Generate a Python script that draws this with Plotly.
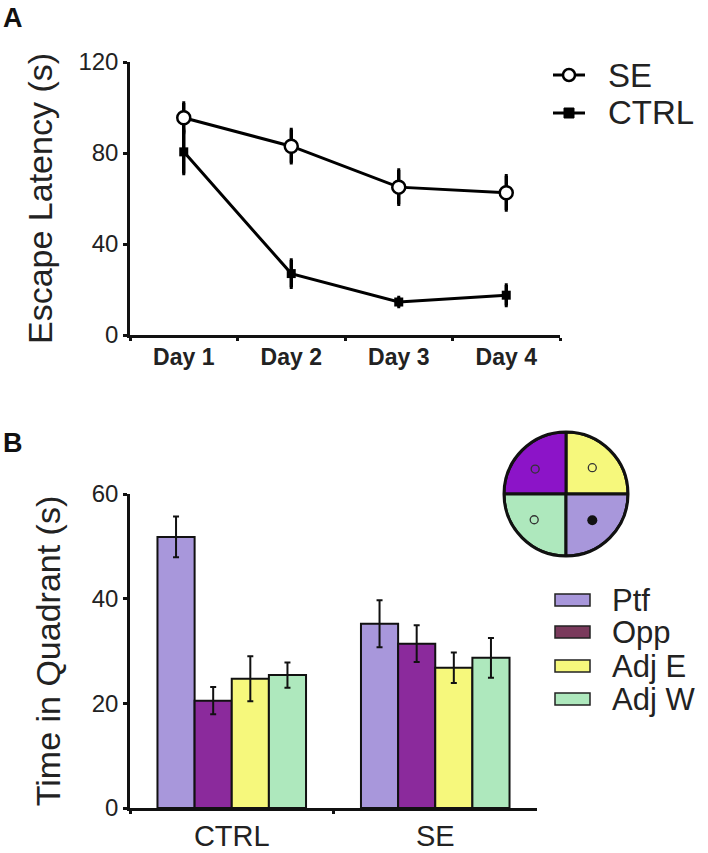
import plotly.graph_objects as go

# ---------- data ----------
days = ["Day 1", "Day 2", "Day 3", "Day 4"]
se_latency = [95.5, 83, 65, 62.5]
se_latency_err = [6.5, 7.3, 7.5, 7.5]
ctrl_latency = [80.5, 27, 14.5, 17.5]
ctrl_latency_err = [9.5, 6, 2, 4.5]

groups = ["CTRL", "SE"]
quadrants = ["Ptf", "Opp", "Adj E", "Adj W"]
ptf = [51.8, 35.2]
ptf_err = [3.9, 4.5]
opp = [20.5, 31.4]
opp_err = [2.6, 3.5]
adj_e = [24.7, 26.8]
adj_e_err = [4.3, 2.9]
adj_w = [25.4, 28.7]
adj_w_err = [2.4, 3.8]

bar_colors = ["#a897db", "#8b2a9c", "#f6f87c", "#aee8bd"]
legend_colors = ["#a897db", "#7a3a5c", "#f6f87c", "#aee8bd"]
pool_colors = ["#f6f87c", "#8c14c8", "#aee8bd", "#a897db"]  # TR, TL, BL, BR
pool_theta = [45, 135, 225, 315]

W, H = 708, 853
FONT = "Liberation Sans, Arial, sans-serif"
TXT = "#222222"

def px(x):
    return x / W

def py(y):
    return 1 - y / H

fig = go.Figure()

# ---------- Panel A ----------
fig.add_trace(go.Scatter(
    x=days, y=se_latency, name="SE", mode="lines+markers",
    line=dict(color="black", width=3),
    marker=dict(symbol="circle", size=13, color="white", line=dict(color="black", width=2.5)),
    error_y=dict(type="data", array=se_latency_err, color="black", thickness=3.5, width=1.5),
    xaxis="x", yaxis="y", showlegend=False))
fig.add_trace(go.Scatter(
    x=days, y=ctrl_latency, name="CTRL", mode="lines+markers",
    line=dict(color="black", width=3),
    marker=dict(symbol="square", size=9, color="black"),
    error_y=dict(type="data", array=ctrl_latency_err, color="black", thickness=3.5, width=1.5),
    xaxis="x", yaxis="y", showlegend=False))

# ---------- Panel B ----------
for name, vals, errs, col in zip(quadrants, [ptf, opp, adj_e, adj_w],
                                 [ptf_err, opp_err, adj_e_err, adj_w_err], bar_colors):
    fig.add_trace(go.Bar(
        x=groups, y=vals, name=name,
        marker=dict(color=col, line=dict(color="#111111", width=2)),
        error_y=dict(type="data", array=errs, color="#111111", thickness=2, width=3),
        xaxis="x2", yaxis="y2", showlegend=False))

# ---------- pool diagram ----------
fig.add_trace(go.Barpolar(
    r=[1, 1, 1, 1], theta=pool_theta, width=[90, 90, 90, 90],
    marker=dict(color=pool_colors, line=dict(color="#111111", width=3)),
    showlegend=False, hoverinfo="skip", subplot="polar"))
fig.add_trace(go.Scatterpolar(
    r=[0.6, 0.64, 0.66], theta=[45, 141, 219], mode="markers",
    marker=dict(symbol="circle-open", size=8, color="#333333", line=dict(width=1.3)),
    showlegend=False, hoverinfo="skip", subplot="polar"))
fig.add_trace(go.Scatterpolar(
    r=[0.6], theta=[315], mode="markers",
    marker=dict(symbol="circle", size=10, color="#111111"),
    showlegend=False, hoverinfo="skip", subplot="polar"))

axis_common = dict(showgrid=False, zeroline=False, showline=True, linecolor="#111111",
                   linewidth=2.5, ticks="outside", tickcolor="#111111", tickwidth=2.5,
                   ticklen=4, color=TXT, automargin=False)

fig.update_layout(
    width=W, height=H, margin=dict(l=0, r=0, t=0, b=0, pad=0, autoexpand=False),
    paper_bgcolor="white", plot_bgcolor="white",
    font=dict(family=FONT, color=TXT),
    barmode="group", bargap=0.27, bargroupgap=0,
    xaxis=dict(axis_common, domain=[px(130), px(560)], anchor="y", range=[-0.5, 3.5],
               tickson="boundaries", ticklen=3,
               tickfont=dict(size=23, family=FONT, weight="bold")),
    yaxis=dict(axis_common, domain=[py(335), py(62)], anchor="x", range=[0, 120],
               tickvals=[0, 40, 80, 120], tickfont=dict(size=24),
               title=dict(text="Escape Latency (s)", font=dict(size=34), standoff=16)),
    xaxis2=dict(axis_common, domain=[px(130), px(537)], anchor="y2", range=[-0.5, 1.5],
                tickson="boundaries", ticklen=3, tickfont=dict(size=29)),
    yaxis2=dict(axis_common, domain=[py(808), py(494)], anchor="x2", range=[0, 60],
                tickvals=[0, 20, 40, 60], tickfont=dict(size=24),
                title=dict(text="Time in Quadrant (s)", font=dict(size=34), standoff=21)),
    polar=dict(domain=dict(x=[px(504), px(628)], y=[py(556), py(432)]),
               bgcolor="rgba(0,0,0,0)", hole=0,
               radialaxis=dict(visible=False, range=[0, 1]),
               angularaxis=dict(visible=True, showline=True, linecolor="#111111", linewidth=3,
                                showticklabels=False, ticks="", showgrid=False,
                                rotation=0, direction="counterclockwise")),
)

shapes = []
annotations = []

# panel letters
annotations.append(dict(text="<b>A</b>", x=px(1), y=py(1), xref="paper", yref="paper",
                        xanchor="left", yanchor="top", showarrow=False,
                        font=dict(size=27, color="#111111")))
annotations.append(dict(text="<b>B</b>", x=px(1), y=py(426), xref="paper", yref="paper",
                        xanchor="left", yanchor="top", showarrow=False,
                        font=dict(size=27, color="#111111")))

# legend A (drawn)
for label, yc, kind in [("SE", 75, "circle"), ("CTRL", 113, "square")]:
    shapes.append(dict(type="line", xref="paper", yref="paper",
                       x0=px(553), x1=px(585), y0=py(yc), y1=py(yc),
                       line=dict(color="black", width=3)))
    if kind == "circle":
        shapes.append(dict(type="circle", xref="paper", yref="paper",
                           x0=px(563), x1=px(575), y0=py(yc + 6), y1=py(yc - 6),
                           fillcolor="white", line=dict(color="black", width=2.5)))
    else:
        shapes.append(dict(type="rect", xref="paper", yref="paper",
                           x0=px(564), x1=px(574), y0=py(yc + 5), y1=py(yc - 5),
                           fillcolor="black", line=dict(color="black", width=1)))
    annotations.append(dict(text=label, x=px(606), y=py(yc), xref="paper", yref="paper",
                            xanchor="left", yanchor="middle", showarrow=False,
                            font=dict(size=33, color=TXT)))

# legend B (drawn)
for label, col, yc in zip(quadrants, legend_colors, [600, 632, 666, 699]):
    shapes.append(dict(type="rect", xref="paper", yref="paper",
                       x0=px(555), x1=px(590), y0=py(yc + 6), y1=py(yc - 6),
                       fillcolor=col, line=dict(color="#222222", width=1.5)))
    annotations.append(dict(text=label, x=px(610), y=py(yc), xref="paper", yref="paper",
                            xanchor="left", yanchor="middle", showarrow=False,
                            font=dict(size=31, color=TXT)))

fig.update_layout(shapes=shapes, annotations=annotations)

fig.write_html("out.html", config={"displayModeBar": False},
               post_script="document.body.style.margin='0';")
